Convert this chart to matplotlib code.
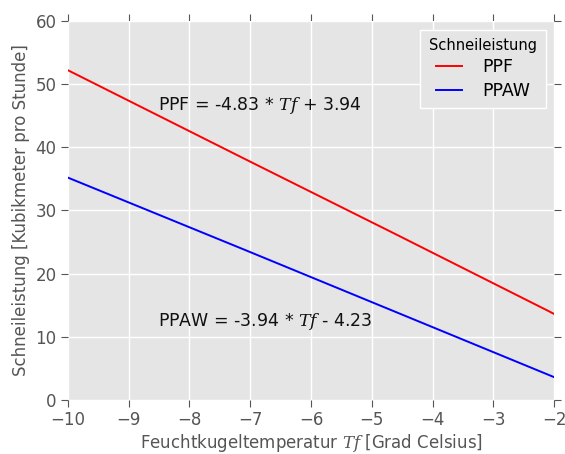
import matplotlib
matplotlib.use("Agg")
import matplotlib.pyplot as plt

# values
tf_ppf = [-10.0, -7.1, -4.6, -2.1, -2.0]
ppf = [52.2, 38.2, 26.2, 14.1, 13.6]
tf_ppaw = [-10.0, -7.1, -4.6, -2.1, -2.0]
ppaw = [35.2, 23.8, 13.9, 4.0, 3.6]

series_names = ["PPF", "PPAW"]
series_colors = ["red", "blue"]

plt.rcParams["mathtext.fontset"] = "dejavuserif"

fig = plt.figure(figsize=(5.65, 4.54), dpi=100)
ax = fig.add_axes([0.12, 0.119, 0.861, 0.835])
ax.set_facecolor("#E5E5E5")
for s in ax.spines.values():
    s.set_visible(False)
ax.grid(True, color="white", linewidth=1.0)
ax.set_axisbelow(True)

ax.plot(tf_ppf, ppf, color=series_colors[0], lw=1.4, label=series_names[0])
ax.plot(tf_ppaw, ppaw, color=series_colors[1], lw=1.4, label=series_names[1])

ax.text(-8.52, 46.6, "PPF = -4.83 * $Tf$ + 3.94", fontsize=12.5, va="center", color="#111111")
ax.text(-8.52, 12.4, "PPAW = -3.94 * $Tf$ - 4.23", fontsize=12.5, va="center", color="#111111")

ax.set_xlim(-10, -2)
ax.set_ylim(0, 60)
ax.set_xticks(range(-10, -1))
ax.set_yticks(range(0, 61, 10))
ax.tick_params(direction="out", length=5, color="#555555", labelcolor="#555555",
               labelsize=12, top=True, right=True, pad=3)
ax.set_xlabel("Feuchtkugeltemperatur $Tf$ [Grad Celsius]", fontsize=12, color="#555555",
              labelpad=2)
ax.set_ylabel("Schneileistung [Kubikmeter pro Stunde]", fontsize=12, color="#555555",
              labelpad=4)

leg = ax.legend(title="Schneileistung", loc="upper right", fontsize=12.5,
                title_fontsize=10.5, facecolor="#E5E5E5", edgecolor="white",
                fancybox=False, framealpha=1.0, borderpad=0.5, handlelength=1.5,
                labelspacing=0.3, handletextpad=1.2, borderaxespad=0.5)

fig.savefig("out.png", dpi=100)
